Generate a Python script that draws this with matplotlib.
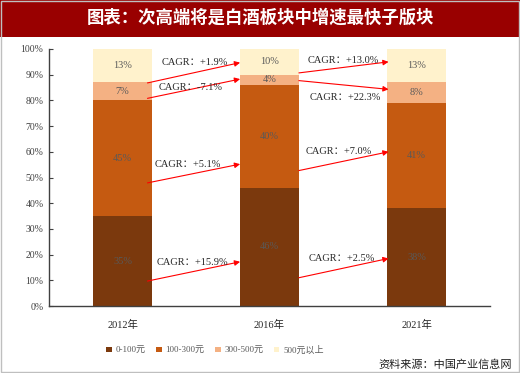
import matplotlib
matplotlib.use("Agg")
import matplotlib.pyplot as plt
from matplotlib.patches import Rectangle
import numpy as np

years = ["2012年", "2016年", "2021年"]
segments = ["0-100元", "100-300元", "300-500元", "500元以上"]
shares = {
    "0-100元": [35, 46, 38],
    "100-300元": [45, 40, 41],
    "300-500元": [7, 4, 8],
    "500元以上": [13, 10, 13],
}
cagr_12_16 = ["+15.9%", "+5.1%", "-7.1%", "+1.9%"]
cagr_16_21 = ["+2.5%", "+7.0%", "+22.3%", "+13.0%"]
colors = ["#7B390D", "#C55A11", "#F4B183", "#FFF2CC"]

FONT = ["Liberation Serif", "Noto Sans CJK SC", "DejaVu Sans"]
plt.rcParams["font.family"] = FONT

fig = plt.figure(figsize=(5.2, 3.73), dpi=100)
fig.patch.set_facecolor("white")

# title bar
fig.patches.append(Rectangle((0, 1 - 37 / 373), 1, 37 / 373, transform=fig.transFigure,
                             facecolor="#990000", edgecolor="none", zorder=0))
fig.text(0.5, 1 - 18 / 373, "图表：次高端将是白酒板块中增速最快子版块", color="white",
         fontsize=12.5, fontweight="bold", ha="center", va="center",
         family=["Noto Sans CJK SC", "DejaVu Sans"])
# outer border
fig.patches.append(Rectangle((0.001, 0.003), 0.997, 0.995, transform=fig.transFigure,
                             facecolor="none", edgecolor="#BFBFBF", lw=1.0, zorder=5))

ax = fig.add_axes([49 / 520, 1 - 306 / 373, 441 / 520, 257 / 373])
x = np.arange(len(years))
bottom = np.zeros(len(years))
for seg, c in zip(segments, colors):
    vals = np.array(shares[seg], dtype=float)
    ax.bar(x, vals, 0.4, bottom=bottom, color=c, label=seg, zorder=2)
    for xi, b, v in zip(x, bottom, vals):
        ax.text(xi, b + v / 2, f"{int(v)}%", ha="center", va="center",
                fontsize=7.5, color="#595959", zorder=3)
    bottom += vals

# arrows (start/end heights chosen relative to segments)
arrow_a = [(9.7, 17.2), (47.9, 55.2), (80.8, 88.3), (86.8, 94.7)]
arrow_b = [(11.0, 18.5), (52.7, 60.0), (87.7, 84.3), (90.7, 95.0)]
text_a = [(0.473, 16.8), (0.446, 54.9), (0.466, 84.9), (0.49, 94.7)]
text_b = [(1.493, 18.3), (1.469, 60.3), (1.517, 81.0), (1.503, 95.4)]
for i in range(4):
    for (y0, y1), (tx, ty), lab, (x0, x1) in [
        (arrow_a[i], text_a[i], cagr_12_16[i], (0.17, 0.8)),
        (arrow_b[i], text_b[i], cagr_16_21[i], (1.2, 1.81)),
    ]:
        ax.annotate("", xy=(x1, y1), xytext=(x0, y0),
                    arrowprops=dict(arrowstyle="-|>", color="#FF0000", lw=0.8,
                                    mutation_scale=8, shrinkA=0, shrinkB=0),
                    zorder=4)
        ax.text(tx, ty, "CAGR：" + lab, ha="center", va="center", fontsize=7.5,
                color="#262626", zorder=4)

ax.set_xlim(-0.5, 2.5)
ax.set_ylim(0, 100)
ax.set_yticks(np.arange(0, 101, 10))
ax.set_yticklabels([f"{v}%" for v in range(0, 101, 10)], fontsize=7, color="#404040")
ax.set_xticks(x)
ax.set_xticklabels(years, fontsize=7.5, color="#262626")
ax.tick_params(axis="x", length=0, pad=10)
ax.tick_params(axis="y", direction="in", length=3, width=0.8, color="#404040", pad=4)
for s in ["top", "right"]:
    ax.spines[s].set_visible(False)
for s in ["left", "bottom"]:
    ax.spines[s].set_color("#404040")
    ax.spines[s].set_linewidth(1.0)

fig.legend(loc="center", bbox_to_anchor=(215 / 520, 1 - 350 / 373), ncol=4, frameon=False,
           fontsize=6.5, handlelength=0.6, handleheight=0.6, handletextpad=0.4,
           columnspacing=1.2, labelcolor="#595959")

fig.text(0.985, 1 - 370 / 373, "资料来源：中国产业信息网", fontsize=8, color="#202020",
         ha="right", va="bottom", family=["Noto Sans CJK SC", "DejaVu Sans"])

fig.savefig("out.png", dpi=100)
